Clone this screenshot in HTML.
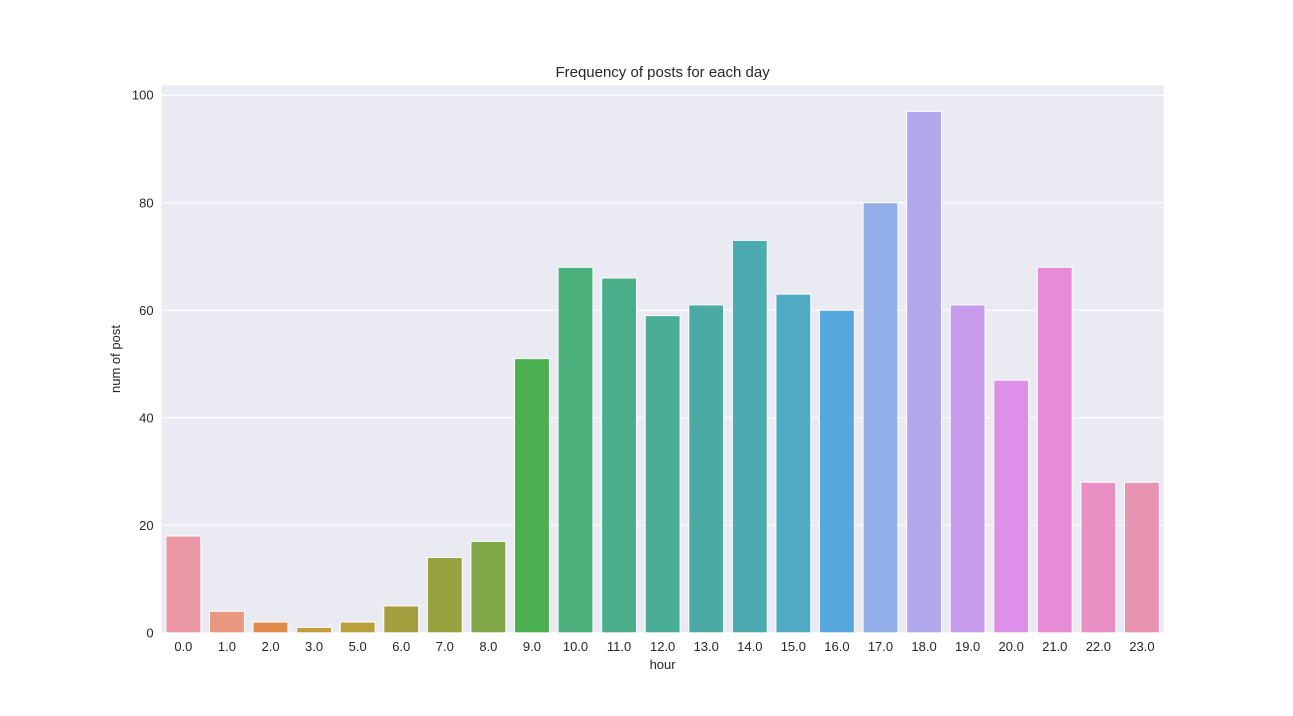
<!DOCTYPE html>
<html><head><meta charset="utf-8"><style>
body{margin:0;background:#fff;}
svg text{font-family:"Liberation Sans","DejaVu Sans",sans-serif;fill:#262626;}
</style></head><body>
<svg id="chart" width="1293" height="711" xmlns="http://www.w3.org/2000/svg">
<rect x="161.6" y="85.3" width="1002.1" height="547.5" fill="#eaeaf2"/>
<g id="grid"></g>
<g id="bars"></g>
<g id="xticks"></g>
<g id="yticks"></g>
<text x="662.6" y="77" font-size="15" text-anchor="middle">Frequency of posts for each day</text>
<text x="662.6" y="669" font-size="13" text-anchor="middle">hour</text>
<text x="120" y="359" font-size="13" text-anchor="middle" transform="rotate(-90 120 359)">num of post</text>
</svg>
<script>
const categories=["0.0","1.0","2.0","3.0","5.0","6.0","7.0","8.0","9.0","10.0","11.0","12.0","13.0","14.0","15.0","16.0","17.0","18.0","19.0","20.0","21.0","22.0","23.0"];
const values=[18,4,2,1,2,5,14,17,51,68,66,59,61,73,63,60,80,97,61,47,68,28,28];
const colors=["#ea96a3","#e9977f","#e08a4b","#c99b40","#b8a03c","#a49f3e","#97a13e","#80a847","#4aaf4e","#4aaf7b","#4aae8b","#4aad98","#4baba4","#4cabb1","#50abc5","#56a8de","#92aee8","#b0a7ec","#c89cec","#dc90e9","#e88bd6","#ea8fc4","#e993b2"];
const yTicks=[0,20,40,60,80,100];
const NS="http://www.w3.org/2000/svg";
const L=161.6,R=1163.7,T=85.3,B=632.8,yMax=101.85;
const step=(R-L)/categories.length;
const x=i=>L+step*(i+0.5);
const y=v=>B-v/yMax*(B-T);
function mk(tag,attrs,parent){const e=document.createElementNS(NS,tag);for(const k in attrs)e.setAttribute(k,attrs[k]);document.getElementById(parent).appendChild(e);return e;}
yTicks.forEach(t=>{
  const g=mk("line",{x1:L,x2:R,y1:y(t),y2:y(t),stroke:"#fff","stroke-width":1},"grid");
  
  
  const tx=mk("text",{x:L-8,y:y(t)+4.5,"font-size":13,"text-anchor":"end"},"yticks");
  tx.textContent=t;
  
  
});
categories.forEach((c,i)=>{
  const w=step*0.8;
  const r=mk("rect",{x:x(i)-w/2,y:y(values[i]),width:w,height:B-y(values[i]),fill:colors[i],stroke:"#fff","stroke-width":1},"bars");
  
  
  const tx=mk("text",{x:x(i),y:B+18,"font-size":13,"text-anchor":"middle"},"xticks");
  tx.textContent=c;
  
  
});
</script>
</body></html>
